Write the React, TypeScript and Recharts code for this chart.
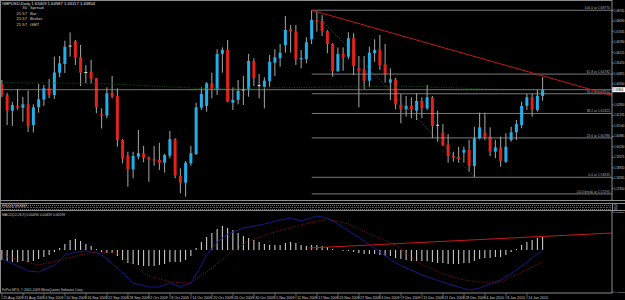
import React from 'react'
import { ComposedChart, Bar, Line, XAxis, YAxis, ReferenceLine } from 'recharts'

// GBPUSD daily, 25 Aug 2009 .. 20 Jan 2010
const opens = [
  1.6416, 1.6347, 1.6249, 1.6279, 1.6268, 1.6289, 1.616, 1.6272, 1.6319, 1.6389,
  1.6347, 1.6487, 1.6541, 1.665, 1.6685, 1.6583, 1.6489, 1.6493, 1.6452, 1.6227,
  1.6218, 1.6362, 1.6341, 1.6066, 1.5966, 1.5883, 1.5962, 1.5983, 1.5955, 1.5947,
  1.5941, 1.5924, 1.5968, 1.607, 1.5841, 1.5799, 1.592, 1.5979, 1.6268, 1.6279,
  1.642, 1.6379, 1.6604, 1.6629, 1.6299, 1.6316, 1.6378, 1.6383, 1.656, 1.6405,
  1.6399, 1.6435, 1.6549, 1.6577, 1.666, 1.6758, 1.6743, 1.657, 1.6572, 1.6697,
  1.6816, 1.681, 1.6747, 1.6666, 1.6497, 1.6604, 1.6587, 1.6702, 1.6514, 1.6508,
  1.6437, 1.6608, 1.6629, 1.6539, 1.6424, 1.6445, 1.6285, 1.6258, 1.6279, 1.6249,
  1.631, 1.6264, 1.6333, 1.6158, 1.6112, 1.6039, 1.5966, 1.5962, 1.5987, 1.6004,
  1.5904, 1.6077, 1.6112, 1.6087, 1.5993, 1.602, 1.593, 1.6066, 1.6114, 1.616,
  1.6279, 1.6333, 1.6254, 1.63409,
]
const highs = [
  1.6441, 1.636, 1.6304, 1.6385, 1.6335, 1.6375, 1.6289, 1.6416, 1.641, 1.6447,
  1.6587, 1.6591, 1.6687, 1.6739, 1.6691, 1.666, 1.6535, 1.6566, 1.6454, 1.6264,
  1.6395, 1.6466, 1.6389, 1.6072, 1.5993, 1.5993, 1.6129, 1.6029, 1.5962, 1.6029,
  1.6049, 1.5979, 1.6122, 1.6078, 1.5889, 1.5935, 1.6029, 1.6299, 1.6395, 1.6428,
  1.6487, 1.6633, 1.6645, 1.6691, 1.6395, 1.6441, 1.6466, 1.6604, 1.6577, 1.6479,
  1.6458, 1.6597, 1.6633, 1.6666, 1.6841, 1.6785, 1.6785, 1.6629, 1.6708, 1.6877,
  1.6868, 1.6847, 1.6754, 1.6672, 1.6645, 1.6645, 1.6739, 1.6733, 1.6591, 1.6591,
  1.6649, 1.6695, 1.6722, 1.6666, 1.6514, 1.6454, 1.6354, 1.6341, 1.6333, 1.6358,
  1.6333, 1.641, 1.6341, 1.6249, 1.6166, 1.6103, 1.5993, 1.6024, 1.6024, 1.6066,
  1.6149, 1.6237, 1.6237, 1.6145, 1.6066, 1.6087, 1.6108, 1.6149, 1.6191, 1.6305,
  1.6354, 1.6354, 1.6379, 1.64587,
]
const lows = [
  1.6335, 1.616, 1.6154, 1.6254, 1.618, 1.6116, 1.6113, 1.6237, 1.6279, 1.6328,
  1.6324, 1.6458, 1.6485, 1.6587, 1.6535, 1.6403, 1.642, 1.642, 1.6233, 1.6138,
  1.6202, 1.6327, 1.6024, 1.592, 1.5774, 1.5827, 1.5945, 1.5927, 1.5805, 1.5905,
  1.5879, 1.5862, 1.5952, 1.5827, 1.5733, 1.5712, 1.5905, 1.5972, 1.6254, 1.6243,
  1.6327, 1.6347, 1.6487, 1.6304, 1.6254, 1.6289, 1.6285, 1.6337, 1.6403, 1.6327,
  1.6264, 1.6399, 1.6466, 1.6524, 1.6612, 1.6612, 1.6535, 1.6514, 1.6545, 1.6666,
  1.6743, 1.6716, 1.6608, 1.6462, 1.6491, 1.6499, 1.657, 1.6472, 1.627, 1.6383,
  1.6395, 1.6555, 1.6504, 1.6424, 1.6316, 1.6258, 1.617, 1.6212, 1.6202, 1.6191,
  1.6202, 1.6254, 1.6077, 1.6055, 1.6029, 1.5924, 1.593, 1.5924, 1.5924, 1.5868,
  1.5835, 1.607, 1.6066, 1.5966, 1.5952, 1.5899, 1.5922, 1.6055, 1.6066, 1.6139,
  1.6254, 1.6212, 1.6243, 1.63117,
]
const closes = [
  1.6347, 1.6249, 1.6285, 1.6268, 1.6289, 1.6152, 1.627, 1.632, 1.6389, 1.6347,
  1.6488, 1.6545, 1.6649, 1.6653, 1.658, 1.6487, 1.6488, 1.6449, 1.627, 1.6219,
  1.6358, 1.6337, 1.6066, 1.5949, 1.5883, 1.5966, 1.5983, 1.5955, 1.5945, 1.5937,
  1.5924, 1.5972, 1.6072, 1.5847, 1.5799, 1.5924, 1.5983, 1.627, 1.6354, 1.642,
  1.6385, 1.6604, 1.6629, 1.6305, 1.6316, 1.6374, 1.6379, 1.656, 1.6452, 1.6406,
  1.6437, 1.6555, 1.6583, 1.6612, 1.6754, 1.6743, 1.657, 1.6578, 1.6677, 1.6816,
  1.6805, 1.6747, 1.6666, 1.6497, 1.6604, 1.6583, 1.6702, 1.6528, 1.6497, 1.6437,
  1.6612, 1.6629, 1.6535, 1.6477, 1.6445, 1.6289, 1.6258, 1.6279, 1.6258, 1.631,
  1.6264, 1.6333, 1.6154, 1.6158, 1.6035, 1.5966, 1.5955, 1.5947, 1.6004, 1.5904,
  1.6077, 1.6145, 1.6083, 1.5993, 1.602, 1.5935, 1.6024, 1.6114, 1.6166, 1.6279,
  1.6333, 1.6258, 1.6343, 1.63804,
]

// slow moving average (dotted green), read at a few bars
const maIdx = [0, 19, 38, 57, 76, 95, 103]
const maVals = [1.6425, 1.6419, 1.6388, 1.6394, 1.6403, 1.6382, 1.6379]

// MACD histogram + the two lines drawn in the sub-window
const macdHist = [
  -0.004, -0.0044, -0.0048, -0.0048, -0.0044, -0.0048, -0.0044, -0.0036, -0.0028, -0.002,
  -0.0008, 0.0008, 0.0024, 0.004, 0.0044, 0.0036, 0.0024, 0.0016, 0.0004, -0.0008,
  -0.0012, -0.0012, -0.0024, -0.004, -0.0052, -0.0056, -0.006, -0.0064, -0.0064, -0.0064,
  -0.006, -0.0056, -0.0048, -0.0048, -0.0048, -0.004, -0.0024, 0.0008, 0.0032, 0.0052,
  0.0068, 0.0084, 0.0096, 0.0088, 0.008, 0.0068, 0.0056, 0.0048, 0.004, 0.0032,
  0.0024, 0.002, 0.002, 0.002, 0.0028, 0.0032, 0.0028, 0.002, 0.0016, 0.002,
  0.002, 0.0016, 0.0012, 0.0004, 0.0, -0.0004, -0.0004, -0.0008, -0.0012, -0.0016,
  -0.0016, -0.0016, -0.002, -0.0024, -0.0024, -0.0032, -0.0036, -0.004, -0.0044, -0.0044,
  -0.0044, -0.0044, -0.0048, -0.0052, -0.0052, -0.0056, -0.0056, -0.0056, -0.0052, -0.0052,
  -0.0044, -0.0036, -0.0032, -0.0032, -0.0028, -0.0028, -0.002, -0.0008, 0.0004, 0.002,
  0.0032, 0.004, 0.0048, 0.0052,
]
const blueIdx = [0, 3, 5, 7, 10, 12, 14, 16, 18, 19, 22, 25, 28, 30, 32, 34, 36, 38, 39, 41, 43, 46, 50, 53, 55, 57, 60, 62, 64, 67, 69, 72, 75, 80, 85, 89, 91, 93, 95, 98, 101, 103]
const blueVals = [
  -0.0036, -0.0064, -0.0084, -0.0088, -0.006, -0.002, -0.0008, -0.0004, -0.0012, -0.002,
  -0.0072, -0.0132, -0.0148, -0.0148, -0.0132, -0.0148, -0.0132, -0.006, -0.002, 0.0032,
  0.0064, 0.0088, 0.0104, 0.012, 0.0128, 0.0116, 0.0136, 0.0128, 0.0104, 0.0064,
  0.0036, -0.0008, -0.0052, -0.01, -0.0136, -0.016, -0.0152, -0.0136, -0.012, -0.008,
  -0.0032, 0.0,
]
const redIdx = [0, 4, 7, 11, 15, 18, 22, 25, 28, 32, 36, 40, 43, 47, 52, 57, 62, 66, 70, 75, 79, 84, 88, 91, 95, 99, 103]
const redVals = [
  -0.002, -0.0044, -0.006, -0.004, -0.002, -0.0008, -0.0012, -0.006, -0.0104, -0.0128,
  -0.0132, -0.0072, -0.002, 0.0036, 0.0072, 0.01, 0.0124, 0.0104, 0.0064, 0.002,
  -0.0048, -0.0096, -0.012, -0.0128, -0.0128, -0.0088, -0.0048,
]

const fibLabels = ['100.0 at 1.68770', '61.8 at 1.64782', '50.0 at 1.63552', '38.2 at 1.62322', '23.6 at 1.60786', '0.0 at 1.58335', '-10.0 break at 1.57291']
const fibPrices = [1.6877, 1.6478, 1.6355, 1.6232, 1.6079, 1.5833, 1.5729]

const priceTicks = [1.68745, 1.6809, 1.67435, 1.6678, 1.66125, 1.6547, 1.64815, 1.6416, 1.6285, 1.62195, 1.6154, 1.60885, 1.6023, 1.59575, 1.5892, 1.58265, 1.5761]

const dateTicks = [0, 4, 8, 12, 16, 20, 24, 28, 32, 36, 40, 44, 48, 52, 56, 60, 64, 68, 72, 76, 80, 84, 88, 92, 96, 100]
const dateLabels = [
  '25 Aug 2009', '31 Aug 2009', '4 Sep 2009', '10 Sep 2009', '16 Sep 2009', '22 Sep 2009', '28 Sep 2009',
  '2 Oct 2009', '8 Oct 2009', '14 Oct 2009', '20 Oct 2009', '26 Oct 2009', '30 Oct 2009', '5 Nov 2009',
  '11 Nov 2009', '17 Nov 2009', '23 Nov 2009', '27 Nov 2009', '3 Dec 2009', '9 Dec 2009', '15 Dec 2009',
  '21 Dec 2009', '28 Dec 2009', '4 Jan 2010', '8 Jan 2010', '14 Jan 2010',
]

const LAST = closes[closes.length - 1]
const X_DOMAIN: [number, number] = [-0.38, 116.19]
const FONT = '"Liberation Sans", Arial, sans-serif'
const GREY = '#8c8c8c'
const TXT = '#c8c8c8'
const UP = '#22aee6'
const DOWN = '#e2231a'

const data = opens.map((open, i) => ({
  i,
  open,
  high: highs[i],
  low: lows[i],
  close: closes[i],
  hist: macdHist[i],
  blue: null as number | null,
  red: null as number | null,
}))
blueIdx.forEach((k, j) => { data[k].blue = blueVals[j] })
redIdx.forEach((k, j) => { data[k].red = redVals[j] })

function Candle(props: any) {
  const { x, y, width, height, payload } = props
  if (!payload) return null
  const { open, high, low, close } = payload
  const top = height < 0 ? y + height : y
  const h = Math.abs(height)
  const k = h / (high - low || 1)
  const cx = x + width / 2
  const yo = top + (high - open) * k
  const yc = top + (high - close) * k
  const doji = Math.abs(close - open) < 0.0004
  const bTop = Math.min(yo, yc)
  const bH = Math.max(Math.abs(yc - yo), 1)
  return (
    <g>
      <line x1={cx} x2={cx} y1={top} y2={top + h} stroke="#a8a8a8" strokeWidth={1} />
      {doji ? (
        <line x1={cx - 1.5} x2={cx + 1.5} y1={yc} y2={yc} stroke="#e6e6e6" strokeWidth={1} />
      ) : (
        <rect x={cx - 1.5} y={bTop} width={3} height={bH} fill={close > open ? UP : DOWN} />
      )}
    </g>
  )
}

const PriceTick = (props: any) => {
  const { x, y, payload } = props
  return (
    <text x={x} y={y + 1} fontSize={2.9} fill={TXT} fontFamily={FONT}>
      {Number(payload.value).toFixed(5)}
    </text>
  )
}

const MacdTick = (props: any) => {
  const { x, y, payload } = props
  return (
    <text x={x} y={y + 1} fontSize={2.5} fill={TXT} fontFamily={FONT}>
      {Number(payload.value).toFixed(6)}
    </text>
  )
}

const DateTick = (props: any) => {
  const { x, y, payload } = props
  const k = dateTicks.indexOf(payload.value)
  return (
    <g>
      <line x1={x} x2={x} y1={y} y2={y + 6} stroke={GREY} strokeWidth={0.6} />
      <text x={x + 1.2} y={y + 5.5} fontSize={3.6} fill={TXT} fontFamily={FONT}>
        {dateLabels[k] ?? ''}
      </text>
    </g>
  )
}

export default function App() {
  return (
    <div style={{ position: 'relative', width: 625, height: 300, background: '#000', overflow: 'hidden' }}>
      <style>{'body{margin:0;background:#000}'}</style>

      <div style={{ position: 'absolute', left: 0, top: 0 }}>
        <ComposedChart width={625} height={200} data={data} margin={{ top: 0, right: 0, bottom: 0, left: 0 }}>
          <XAxis dataKey="i" type="number" domain={X_DOMAIN} allowDataOverflow hide />
          <YAxis
            orientation="right"
            width={13}
            domain={[1.5691, 1.6941]}
            allowDataOverflow
            ticks={priceTicks}
            interval={0}
            tick={<PriceTick />}
            tickSize={1.5}
            tickMargin={0.5}
            tickLine={{ stroke: GREY }}
            axisLine={{ stroke: GREY }}
          />
          {fibPrices.map((p, k) => (
            <ReferenceLine
              key={k}
              segment={[{ x: 59, y: p }, { x: X_DOMAIN[1], y: p }]}
              stroke="#9a9a9a"
              strokeWidth={0.8}
              label={(lp: any) => (
                <text
                  x={lp.viewBox.x + lp.viewBox.width - 2}
                  y={lp.viewBox.y - 1}
                  textAnchor="end"
                  fontSize={3.4}
                  fill="#a8a8a8"
                  fontFamily={FONT}
                >
                  {fibLabels[k]}
                </text>
              )}
            />
          ))}
          <ReferenceLine
            segment={[{ x: 59, y: highs[59] }, { x: 90, y: lows[90] }]}
            stroke="#707070"
            strokeWidth={0.8}
            strokeDasharray="1 2"
          />
          {maIdx.slice(1).map((k, j) => (
            <ReferenceLine
              key={`ma-${k}`}
              segment={[{ x: maIdx[j], y: maVals[j] }, { x: k, y: maVals[j + 1] }]}
              stroke="#0c560c"
              strokeWidth={1}
              strokeDasharray="1 1.5"
            />
          ))}
          <ReferenceLine
            y={LAST}
            stroke={GREY}
            strokeWidth={0.8}
            label={(lp: any) => (
              <g>
                <rect x={lp.viewBox.x + lp.viewBox.width} y={lp.viewBox.y - 2.5} width={13} height={5} fill="#fff" />
                <text x={lp.viewBox.x + lp.viewBox.width + 1} y={lp.viewBox.y + 1.1} fontSize={2.9} fill="#000" fontFamily={FONT}>
                  {LAST.toFixed(5)}
                </text>
              </g>
            )}
          />
          <Bar dataKey={(d: any) => [d.low, d.high]} barSize={3} shape={<Candle />} isAnimationActive={false} />
          <ReferenceLine
            segment={[{ x: 59, y: highs[59] }, { x: X_DOMAIN[1], y: 1.6344 }]}
            stroke="#c41818"
            strokeWidth={1}
          />
        </ComposedChart>
      </div>

      <div style={{ position: 'absolute', left: 0, top: 211 }}>
        <ComposedChart width={625} height={89} data={data} margin={{ top: 0, right: 0, bottom: 0, left: 0 }}>
          <XAxis
            dataKey="i"
            type="number"
            domain={X_DOMAIN}
            allowDataOverflow
            ticks={dateTicks}
            interval={0}
            height={7}
            tick={<DateTick />}
            tickSize={0}
            tickMargin={0}
            tickLine={false}
            axisLine={{ stroke: GREY }}
          />
          <YAxis
            orientation="right"
            width={13}
            domain={[-0.0172, 0.0156]}
            allowDataOverflow
            ticks={[0.0152, -0.0168]}
            interval={0}
            tick={<MacdTick />}
            tickSize={1.5}
            tickMargin={0.5}
            tickLine={{ stroke: GREY }}
            axisLine={{ stroke: GREY }}
          />
          <Bar dataKey="hist" barSize={1} fill="#dcdcdc" isAnimationActive={false} />
          <Line dataKey="blue" connectNulls dot={false} activeDot={false} stroke="#18188a" strokeWidth={1} isAnimationActive={false} />
          <Line dataKey="red" connectNulls dot={false} activeDot={false} stroke="#8e1414" strokeWidth={1} strokeDasharray="1 1.5" isAnimationActive={false} />
          <ReferenceLine segment={[{ x: 58.5, y: 0.0008 }, { x: X_DOMAIN[1], y: 0.0068 }]} stroke="#c41818" strokeWidth={1} />
        </ComposedChart>
      </div>

      <svg width={625} height={300} style={{ position: 'absolute', left: 0, top: 0, pointerEvents: 'none' }} fontFamily={FONT}>
        <line x1={0.5} x2={0.5} y1={0} y2={293} stroke={GREY} />
        <line x1={0} x2={612} y1={0.5} y2={0.5} stroke={GREY} />
        <line x1={0} x2={625} y1={200.5} y2={200.5} stroke={GREY} />
        <line x1={0} x2={625} y1={203.5} y2={203.5} stroke={GREY} />
        <line x1={0} x2={625} y1={210.5} y2={210.5} stroke={GREY} />
        <line x1={612.5} x2={612.5} y1={203} y2={211} stroke={GREY} />
        <line x1={0} x2={612} y1={205.5} y2={205.5} stroke="#707070" strokeDasharray="1 1" />
        <line x1={0} x2={612} y1={207.5} y2={207.5} stroke="#3a5a9a" strokeDasharray="2 1" />
        <line x1={0} x2={612} y1={209.5} y2={209.5} stroke="#707070" strokeDasharray="1 1" />
        <text x={614} y={206.5} fontSize={3} fill={TXT}>70</text>
        <text x={614} y={210} fontSize={3} fill={TXT}>30</text>

        <text x={2} y={4.5} fontSize={4.2} fill="#e0e0e0">GBPUSD,Daily  1.63409 1.64587 1.63117 1.63804</text>
        <text x={27} y={9} fontSize={4.2} fill={TXT} textAnchor="end">30</text>
        <text x={30} y={9} fontSize={4.2} fill={TXT}>Spread</text>
        <text x={27} y={14.5} fontSize={4.2} fill={TXT} textAnchor="end">21:57</text>
        <text x={30} y={14.5} fontSize={4.2} fill={TXT}>Bar</text>
        <text x={27} y={20} fontSize={4.2} fill={TXT} textAnchor="end">21:57</text>
        <text x={30} y={20} fontSize={4.2} fill={TXT}>Broker</text>
        <text x={27} y={25.5} fontSize={4.2} fill={TXT} textAnchor="end">21:57</text>
        <text x={30} y={25.5} fontSize={4.2} fill={TXT}>GMT</text>

        <text x={2} y={207} fontSize={3.4} fill={TXT}>RSI(14) 58.8809</text>
        <text x={2} y={215.5} fontSize={3.4} fill={TXT}>MACD(12,26,9) 0.00494 0.00459 0.00599</text>
        <text x={2} y={291} fontSize={3.4} fill={TXT}>FxPro MT4, © 2001-2009 MetaQuotes Software Corp.</text>
      </svg>
    </div>
  )
}
